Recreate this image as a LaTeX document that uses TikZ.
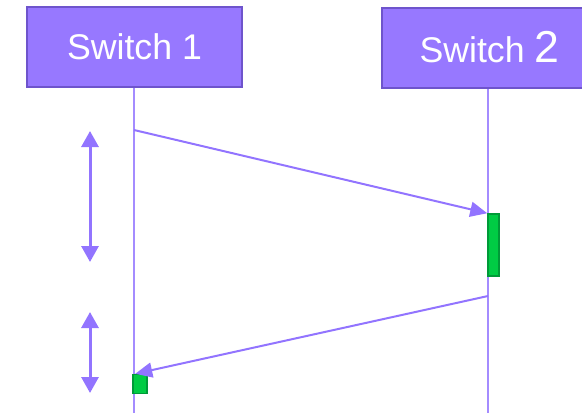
\documentclass[tikz,border=0pt]{standalone}
\usepackage{fontspec}
\setmainfont{Liberation Sans}
\usetikzlibrary{arrows.meta}
\definecolor{boxfill}{HTML}{9778FF}
\definecolor{boxline}{HTML}{6E54CC}
\definecolor{lifeline}{HTML}{A48CFF}
\definecolor{msg}{HTML}{9274FF}
\definecolor{actfill}{HTML}{00CC44}
\definecolor{actline}{HTML}{009A38}
\tikzset{
  switchbox/.style={draw=boxline, line width=2pt, fill=boxfill, text=white,
    minimum width=215pt, minimum height=80pt, inner sep=0pt,
    font=\fontsize{35.7}{40}\selectfont},
  life/.style={draw=lifeline, line width=1.2pt},
  message/.style={draw=msg, line width=2pt, -{Triangle[length=17pt,width=15pt]}},
  span/.style={draw=msg, line width=3pt, {Triangle[length=16pt,width=17pt]}-{Triangle[length=16pt,width=17pt]}},
  activity/.style={draw=actline, line width=1.5pt, fill=actfill, inner sep=0pt}
}
\begin{document}
\begin{tikzpicture}[x=1pt,y=-1pt]
  \useasboundingbox (0,0) rectangle (582,413);
  % lifelines
  \coordinate (l1top) at (134,87);
  \coordinate (l1bot) at (134,413);
  \coordinate (l2top) at (488,87);
  \coordinate (l2bot) at (488,413);
  \draw[life] (l1top) -- (l1bot);
  \draw[life] (l2top) -- (l2bot);
  % switch headers
  \node[switchbox] (sw1) at (134.5,47) {Switch 1};
  \node[switchbox] (sw2) at (489.5,47.5) {Switch {\fontsize{44.7}{48}\selectfont 2}};
  % activations
  \node[activity, minimum width=11pt, minimum height=62pt] (act2) at (493.5,245) {};
  \node[activity, minimum width=14pt, minimum height=19pt] (act1) at (140,384) {};
  % messages
  \coordinate (m1s) at (134,130);
  \coordinate (m2s) at (488,296);
  \draw[message] (m1s) -- (act2.north west);
  \draw[message] (m2s) -- ([xshift=3pt]act1.north west);
  % time spans
  \coordinate (d1a) at (90,131);
  \coordinate (d1b) at (90,262);
  \coordinate (d2a) at (90,312);
  \coordinate (d2b) at (90,393);
  \draw[span] (d1a) -- (d1b);
  \draw[span] (d2a) -- (d2b);
\end{tikzpicture}
\end{document}
